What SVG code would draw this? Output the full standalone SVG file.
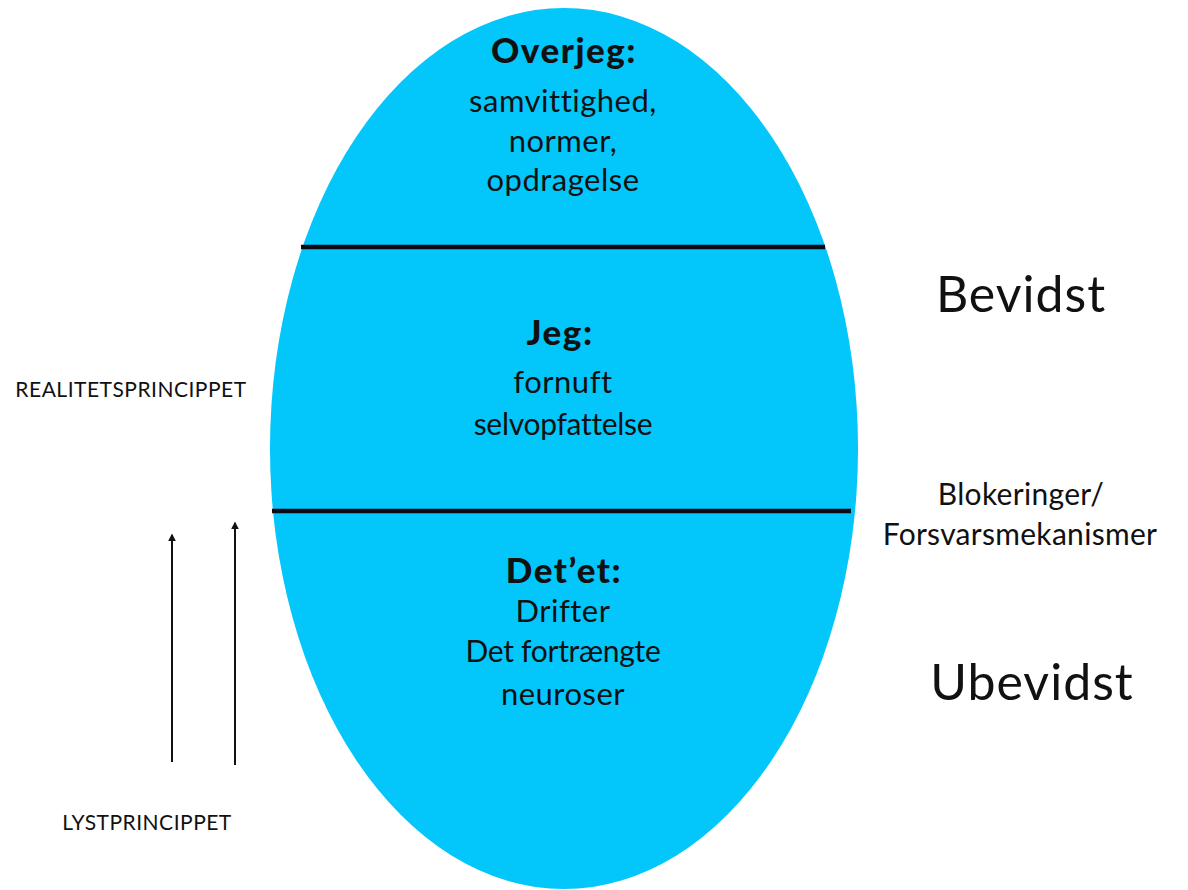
<svg xmlns="http://www.w3.org/2000/svg" width="1188" height="890" viewBox="0 0 1188 890">
<defs>
<style>
.t{font-family:Lato,"Open Sans","Liberation Sans",sans-serif;fill:#111;text-anchor:middle}
.b{font-weight:900;font-size:35px;letter-spacing:1.5px}
.r{font-size:31px;letter-spacing:0.5px}
.n{font-size:30px;letter-spacing:-0.3px}
.big{font-size:50px;letter-spacing:1px}
.mid{font-size:30px;letter-spacing:0.3px}
.sm{font-size:21px;letter-spacing:0.5px}
.div{stroke:#0a0a14;stroke-width:4.5}
.arr{stroke:#111;stroke-width:2;fill:none;marker-end:url(#ah)}
</style>
<marker id="ah" viewBox="0 0 10 10" refX="8" refY="5" markerWidth="4" markerHeight="4" orient="auto">
<path d="M0,0 L10,5 L0,10 z" fill="#111"/>
</marker>
</defs>
<rect width="1188" height="890" fill="#fff"/>
<g id="psyche">
<ellipse cx="564" cy="448.5" rx="294" ry="440.5" fill="#03C6FA"/>
</g>
<g id="connectors">
<line class="div" x1="301" y1="247" x2="825" y2="247"/>
<line class="div" x1="272" y1="511" x2="851" y2="511"/>
<line class="arr" x1="172" y1="762" x2="172" y2="535"/>
<line class="arr" x1="235" y1="765" x2="235" y2="523"/>
</g>
<g id="overjeg">
<text class="t b" x="564" y="63">Overjeg:</text>
<text class="t r" x="563" y="112">samvittighed,</text>
<text class="t r" x="563" y="152">normer,</text>
<text class="t r" x="563" y="191">opdragelse</text>
</g>
<g id="jeg">
<text class="t b" x="560" y="345">Jeg:</text>
<text class="t r" x="563" y="393">fornuft</text>
<text class="t n" x="563" y="435">selvopfattelse</text>
</g>
<g id="detet">
<text class="t b" x="564" y="583">Det’et:</text>
<text class="t r" x="563" y="622">Drifter</text>
<text class="t n" x="563" y="662">Det fortrængte</text>
<text class="t r" x="563" y="705">neuroser</text>
</g>
<g id="bevidst"><text class="t big" x="1021" y="312">Bevidst</text></g>
<g id="ubevidst"><text class="t big" x="1032" y="700">Ubevidst</text></g>
<g id="blokeringer">
<text class="t mid" x="1021" y="505">Blokeringer/</text>
<text class="t mid" x="1020" y="545">Forsvarsmekanismer</text>
</g>
<g id="realitet"><text class="t sm" x="131" y="397">REALITETSPRINCIPPET</text></g>
<g id="lyst"><text class="t sm" x="147" y="830">LYSTPRINCIPPET</text></g>
</svg>
